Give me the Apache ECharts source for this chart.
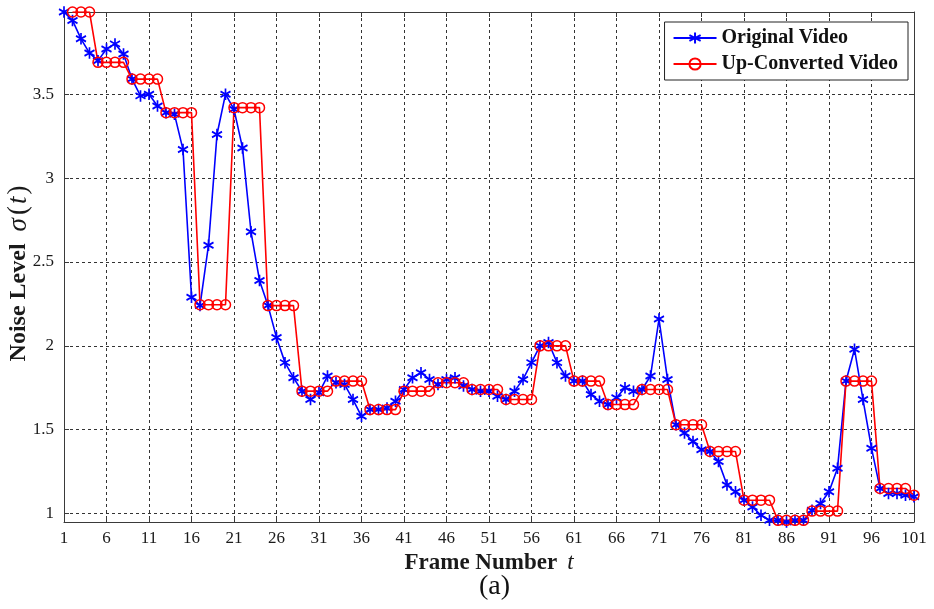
<!DOCTYPE html>
<html>
<head>
<meta charset="utf-8">
<script src="https://cdn.jsdelivr.net/npm/echarts@6/dist/echarts.min.js"></script>
<style>
  html, body { margin: 0; padding: 0; background: #ffffff; }
  #chart { width: 934px; height: 609px; }
</style>
</head>
<body>
<div id="chart"></div>
<script>
// Frame indices t
const frames = [
  1, 2, 3, 4, 5, 6, 7, 8, 9, 10,
  11, 12, 13, 14, 15, 16, 17, 18, 19, 20,
  21, 22, 23, 24, 25, 26, 27, 28, 29, 30,
  31, 32, 33, 34, 35, 36, 37, 38, 39, 40,
  41, 42, 43, 44, 45, 46, 47, 48, 49, 50,
  51, 52, 53, 54, 55, 56, 57, 58, 59, 60,
  61, 62, 63, 64, 65, 66, 67, 68, 69, 70,
  71, 72, 73, 74, 75, 76, 77, 78, 79, 80,
  81, 82, 83, 84, 85, 86, 87, 88, 89, 90,
  91, 92, 93, 94, 95, 96, 97, 98, 99, 100,
  101
];

// Estimated noise level per frame, original sequence
const originalVideo = [
  3.99, 3.94, 3.83, 3.745, 3.70, 3.77, 3.80, 3.74, 3.59, 3.49,
  3.50, 3.43, 3.39, 3.38, 3.17, 2.29, 2.24, 2.60, 3.26, 3.50,
  3.41, 3.18, 2.68, 2.39, 2.24, 2.05, 1.90, 1.81, 1.73, 1.68,
  1.72, 1.82, 1.78, 1.77, 1.68, 1.58, 1.62, 1.62, 1.63, 1.67,
  1.74, 1.81, 1.84, 1.80, 1.77, 1.80, 1.81, 1.76, 1.74, 1.73,
  1.73, 1.70, 1.68, 1.73, 1.80, 1.90, 2.00, 2.02, 1.90, 1.82,
  1.79, 1.79, 1.71, 1.67, 1.65, 1.69, 1.75, 1.73, 1.74, 1.82,
  2.16, 1.80, 1.53, 1.48, 1.43, 1.38, 1.37, 1.31, 1.17, 1.13,
  1.08, 1.04, 0.99, 0.96, 0.96, 0.95, 0.96, 0.96, 1.02, 1.06,
  1.13, 1.27, 1.79, 1.98, 1.68, 1.39, 1.15, 1.12, 1.12, 1.11,
  1.10
];

// Estimated noise level per frame, up-converted sequence
const upConvertedVideo = [
  null, 3.99, 3.99, 3.99, 3.69, 3.69, 3.69, 3.69, 3.59, 3.59,
  3.59, 3.59, 3.39, 3.39, 3.39, 3.39, 2.245, 2.245, 2.245, 2.245,
  3.42, 3.42, 3.42, 3.42, 2.24, 2.24, 2.24, 2.24, 1.73, 1.73,
  1.73, 1.73, 1.79, 1.79, 1.79, 1.79, 1.62, 1.62, 1.62, 1.62,
  1.73, 1.73, 1.73, 1.73, 1.78, 1.78, 1.78, 1.78, 1.74, 1.74,
  1.74, 1.74, 1.68, 1.68, 1.68, 1.68, 2.00, 2.00, 2.00, 2.00,
  1.79, 1.79, 1.79, 1.79, 1.65, 1.65, 1.65, 1.65, 1.74, 1.74,
  1.74, 1.74, 1.53, 1.53, 1.53, 1.53, 1.37, 1.37, 1.37, 1.37,
  1.08, 1.08, 1.08, 1.08, 0.96, 0.96, 0.96, 0.96, 1.015, 1.015,
  1.015, 1.015, 1.79, 1.79, 1.79, 1.79, 1.15, 1.15, 1.15, 1.15,
  1.11
];

const xTicks = [1, 6, 11, 16, 21, 26, 31, 36, 41, 46, 51, 56, 61, 66, 71, 76, 81, 86, 91, 96, 101];
const yTicks = [1, 1.5, 2, 2.5, 3, 3.5];
const xRange = [1, 101];
const yRange = [0.95, 3.99];

const seriesNames = ['Original Video', 'Up-Converted Video'];

const SERIF = "'Liberation Serif', 'Times New Roman', 'DejaVu Serif', serif";
const AXIS_COLOR = '#3a3a3a';
const GRID_COLOR = '#333333';
const TEXT_COLOR = '#1a1a1a';

// Asterisk marker built from three strokes
const STAR = 'path://M0,-10L0,10M-8.66,-5L8.66,5M-8.66,5L8.66,-5';

function pairs(values) {
  return frames.map((t, i) => [t, values[i]]);
}

const chart = echarts.init(document.getElementById('chart'), null, { renderer: 'canvas' });

const tickInside = { show: true, inside: true, length: 5, lineStyle: { color: AXIS_COLOR, width: 1 } };

chart.setOption({
  animation: false,
  backgroundColor: '#ffffff',
  grid: {
    left: 64, right: 20, top: 12, bottom: 87,
    containLabel: false,
    outerBoundsMode: 'none'
  },
  legend: {
    data: seriesNames,
    orient: 'vertical',
    right: 26,
    top: 22,
    padding: [6, 10, 6, 8],
    itemGap: 6,
    itemWidth: 43,
    itemHeight: 14,
    backgroundColor: '#ffffff',
    borderColor: '#222222',
    borderWidth: 1,
    borderRadius: 0,
    textStyle: {
      fontFamily: SERIF, fontWeight: 'bold', fontSize: 20, color: '#111111', lineHeight: 20
    }
  },
  xAxis: [
    {
      type: 'value',
      min: xRange[0], max: xRange[1],
      position: 'bottom',
      axisLine: { show: true, onZero: false, lineStyle: { color: AXIS_COLOR, width: 1 } },
      axisTick: Object.assign({ customValues: xTicks }, tickInside),
      axisLabel: {
        customValues: xTicks, margin: 8,
        fontFamily: SERIF, fontSize: 17, color: TEXT_COLOR
      },
      splitLine: { show: true, lineStyle: { color: GRID_COLOR, type: [3, 3], width: 1 } },
      name: '{b|Frame Number}{i|t}',
      nameLocation: 'middle',
      nameGap: 18,
      nameTextStyle: {
        rich: {
          b: { fontFamily: SERIF, fontWeight: 'bold', fontSize: 23, color: TEXT_COLOR },
          i: { fontFamily: SERIF, fontStyle: 'italic', fontSize: 23, color: TEXT_COLOR, padding: [0, 0, 0, 10] }
        }
      }
    },
    {
      type: 'value',
      min: xRange[0], max: xRange[1],
      position: 'top',
      axisLine: { show: true, onZero: false, lineStyle: { color: AXIS_COLOR, width: 1 } },
      axisTick: Object.assign({ customValues: xTicks }, tickInside),
      axisLabel: { show: false },
      splitLine: { show: false }
    }
  ],
  yAxis: [
    {
      type: 'value',
      min: yRange[0], max: yRange[1],
      position: 'left',
      axisLine: { show: true, onZero: false, lineStyle: { color: AXIS_COLOR, width: 1 } },
      axisTick: Object.assign({ customValues: yTicks }, tickInside),
      axisLabel: {
        customValues: yTicks, margin: 10,
        fontFamily: SERIF, fontSize: 17, color: TEXT_COLOR
      },
      splitLine: { show: true, lineStyle: { color: GRID_COLOR, type: [3, 3], width: 1 } }
    },
    {
      type: 'value',
      min: yRange[0], max: yRange[1],
      position: 'right',
      axisLine: { show: true, onZero: false, lineStyle: { color: AXIS_COLOR, width: 1 } },
      axisTick: Object.assign({ customValues: yTicks }, tickInside),
      axisLabel: { show: false },
      splitLine: { show: false }
    }
  ],
  graphic: [
    {
      // vertical axis title
      type: 'text',
      x: 19, y: 273,
      rotation: Math.PI / 2,
      style: {
        text: '{b|Noise Level}{s|σ}{n|(}{i|t}{n|)}',
        align: 'center',
        verticalAlign: 'middle',
        rich: {
          b: { fontFamily: SERIF, fontWeight: 'bold', fontSize: 24, fill: TEXT_COLOR },
          s: { fontFamily: SERIF, fontStyle: 'italic', fontSize: 27, fill: TEXT_COLOR, padding: [0, 2, 0, 12] },
          i: { fontFamily: SERIF, fontStyle: 'italic', fontSize: 27, fill: TEXT_COLOR, padding: [0, 1, 0, 1] },
          n: { fontFamily: SERIF, fontSize: 27, fill: TEXT_COLOR, padding: [0, 1, 0, 1] }
        }
      }
    },
    {
      type: 'text',
      left: 479, top: 573,
      style: { text: '(a)', fontFamily: SERIF, fontSize: 28, fill: '#111111' }
    }
  ],
  series: [
    {
      name: seriesNames[0],
      type: 'line',
      xAxisIndex: 0, yAxisIndex: 0,
      data: pairs(originalVideo),
      symbol: STAR,
      symbolSize: [10, 11.5],
      showAllSymbol: true,
      lineStyle: { color: '#0000ff', width: 1.6 },
      itemStyle: { color: '#0000ff', borderColor: '#0000ff', borderWidth: 1.8 },
      emphasis: { disabled: true },
      clip: true
    },
    {
      name: seriesNames[1],
      type: 'line',
      xAxisIndex: 0, yAxisIndex: 0,
      data: pairs(upConvertedVideo),
      symbol: 'circle',
      symbolSize: 10,
      showAllSymbol: true,
      connectNulls: false,
      lineStyle: { color: '#ff0000', width: 1.6 },
      itemStyle: { color: 'rgba(255,255,255,0)', borderColor: '#ff0000', borderWidth: 1.5 },
      emphasis: { disabled: true },
      clip: true
    }
  ]
});
</script>
</body>
</html>
